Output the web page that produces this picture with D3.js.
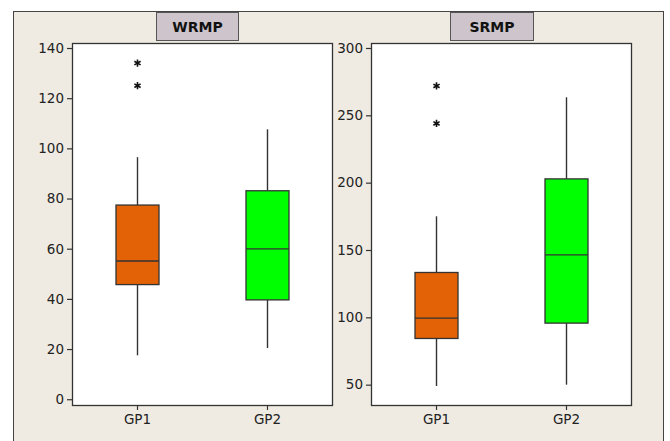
<!DOCTYPE html>
<html>
<head>
<meta charset="utf-8">
<script src="https://cdn.jsdelivr.net/npm/d3@7"></script>
<style>
  body { margin: 0; background: #fff; }
  text { font-family: Tahoma, "DejaVu Sans", sans-serif; }
</style>
</head>
<body>
<svg id="chart" width="670" height="441"></svg>
<script>
// ── Data ──
const groups = ['GP1', 'GP2'];
const groupColors = ['#e36205', '#00ff00'];

// [whiskerLow, Q1, median, Q3, whiskerHigh]
const wrmpStats = [
  [17.5, 45.7, 55.1, 77.4, 96.5],
  [20.4, 39.6, 59.9, 83.1, 107.6]
];
const wrmpOutliers = [[134, 125], []];
const wrmpTicks = [0, 20, 40, 60, 80, 100, 120, 140];

const srmpStats = [
  [49, 84.3, 99.4, 133.3, 175],
  [50, 95.7, 146.4, 202.8, 263.4]
];
const srmpOutliers = [[271.8, 244], []];
const srmpTicks = [50, 100, 150, 200, 250, 300];

const svg = d3.select('#chart');
const FONT = 'Tahoma, "DejaVu Sans", sans-serif';

// Outer frame
svg.append('rect').attr('x', 13.5).attr('y', 11.5).attr('width', 650).attr('height', 440)
  .attr('fill', '#efebe2').attr('stroke', '#444').attr('stroke-width', 1);

function drawPanel(opt) {
  const { left, right, top, bottom, domain, ticks, stats, outliers, title, titleBox } = opt;

  const y = d3.scaleLinear().domain(domain).range([bottom, top]);
  const x = d3.scalePoint().domain(groups).range([left, right]).padding(0.5);
  const boxW = 43;

  // Title tab
  svg.append('rect').attr('x', titleBox[0] + 0.5).attr('y', 12.5)
    .attr('width', titleBox[1] - titleBox[0]).attr('height', 28)
    .attr('fill', '#cdc5cb').attr('stroke', '#555').attr('stroke-width', 1);
  svg.append('text').attr('x', (titleBox[0] + titleBox[1]) / 2 + 0.5).attr('y', 31.5)
    .attr('text-anchor', 'middle').attr('font-size', 14).attr('font-weight', 'bold')
    .attr('fill', '#111').text(title);

  // Plot area
  svg.append('rect').attr('x', left + 0.5).attr('y', top + 0.5)
    .attr('width', right - left).attr('height', bottom - top)
    .attr('fill', '#fff').attr('stroke', '#333').attr('stroke-width', 1.3);

  // Y axis
  const yAxis = svg.append('g').attr('transform', `translate(${left},0)`)
    .call(d3.axisLeft(y).tickValues(ticks).tickSize(5).tickPadding(3));
  yAxis.select('.domain').remove();
  yAxis.selectAll('line').attr('stroke', '#333').attr('stroke-width', 1.2);
  yAxis.selectAll('text').attr('font-size', 13.5).attr('fill', '#222')
    .style('font-family', FONT);

  // X axis
  const xAxis = svg.append('g').attr('transform', `translate(0,${bottom})`)
    .call(d3.axisBottom(x).tickSize(5).tickPadding(4));
  xAxis.select('.domain').remove();
  xAxis.selectAll('line').attr('stroke', '#333').attr('stroke-width', 1.2);
  xAxis.selectAll('text').attr('font-size', 13.5).attr('fill', '#222')
    .style('font-family', FONT);

  groups.forEach((g, i) => {
    const [lo, q1, med, q3, hi] = stats[i];
    const cx = Math.round(x(g)) + 0.5;

    // Whiskers
    svg.append('line').attr('x1', cx).attr('x2', cx).attr('y1', y(hi)).attr('y2', y(q3))
      .attr('stroke', '#333').attr('stroke-width', 1.4);
    svg.append('line').attr('x1', cx).attr('x2', cx).attr('y1', y(q1)).attr('y2', y(lo))
      .attr('stroke', '#333').attr('stroke-width', 1.4);

    // Box
    svg.append('rect').attr('x', cx - boxW / 2).attr('y', y(q3))
      .attr('width', boxW).attr('height', y(q1) - y(q3))
      .attr('fill', groupColors[i]).attr('stroke', '#333').attr('stroke-width', 1.3);

    // Median
    svg.append('line').attr('x1', cx - boxW / 2).attr('x2', cx + boxW / 2)
      .attr('y1', y(med)).attr('y2', y(med))
      .attr('stroke', '#333').attr('stroke-width', 1.3);

    // Outliers (asterisks)
    outliers[i].forEach(v => {
      svg.append('path')
        .attr('d', d3.symbol(d3.symbolAsterisk, 36)())
        .attr('transform', `translate(${cx},${y(v)})`)
        .attr('fill', 'none').attr('stroke', '#111').attr('stroke-width', 1.6);
    });
  });
}

drawPanel({
  left: 72, right: 332, top: 43, bottom: 405,
  domain: [-2.3, 142], ticks: wrmpTicks,
  stats: wrmpStats, outliers: wrmpOutliers,
  title: 'WRMP', titleBox: [156, 238]
});

drawPanel({
  left: 371, right: 631, top: 43, bottom: 405,
  domain: [34.9, 303.7], ticks: srmpTicks,
  stats: srmpStats, outliers: srmpOutliers,
  title: 'SRMP', titleBox: [450, 533]
});
</script>
</body>
</html>
